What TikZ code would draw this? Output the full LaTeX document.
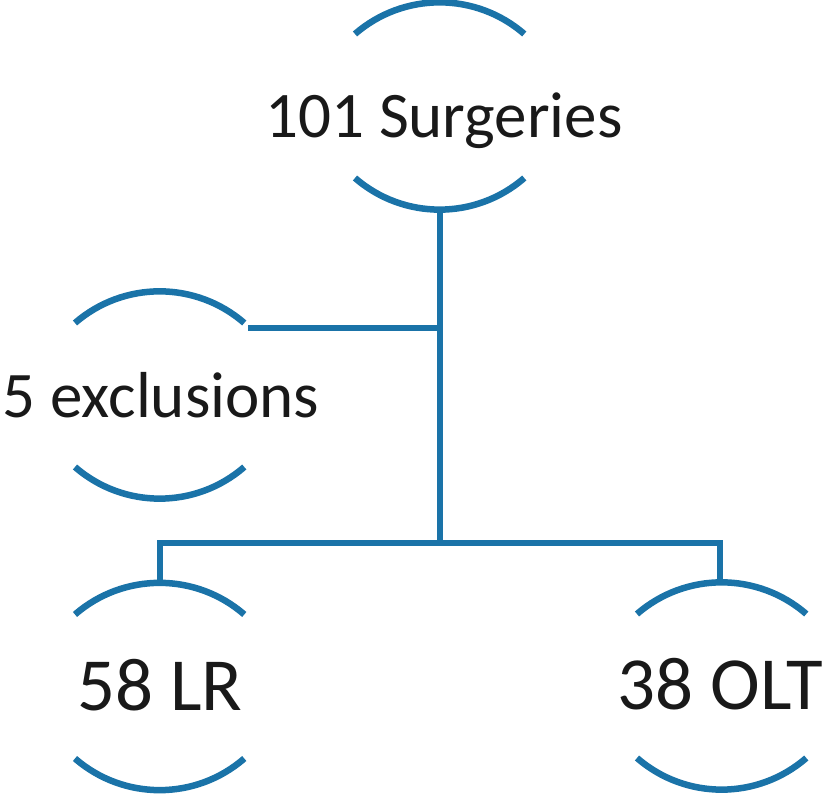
\documentclass[tikz,border=0pt]{standalone}
\usepackage{fontspec}
\setmainfont{Carlito}
\usetikzlibrary{calc}
\definecolor{flowblue}{HTML}{1A73A8}

\begin{document}
\begin{tikzpicture}[x=1pt,y=1pt,
    ring/.style={flowblue,line width=6.5pt},
    link/.style={flowblue,line width=6.5pt},
    lbl/.style={anchor=base,inner sep=0pt,text=black!90}]
          \useasboundingbox (0,0) rectangle (833,794);
          \foreach \n/\cx/\cy in {surg/440/688,excl/160/399,lr/160/107.5,olt/722/108}{
            \coordinate (\n) at (\cx,\cy);
            \draw[ring] ($(\n)+(-85,72)$) arc[start angle=131,end angle=49,radius=129];
            \draw[ring] ($(\n)+(-85,-72)$) arc[start angle=229,end angle=311,radius=129];
          }
          \node[lbl,font=\fontsize{65}{70}\selectfont] (surgtxt) at ($(surg)+(4,-32)$) {101 Surgeries};
          \node[lbl,font=\fontsize{65}{70}\selectfont] (excltxt) at ($(excl)+(1,-23)$) {5 exclusions};
          \node[lbl,font=\fontsize{75}{80}\selectfont] (lrtxt) at ($(lr)+(0,-24)$) {58 LR};
          \node[lbl,font=\fontsize{75}{80}\selectfont] (olttxt) at ($(olt)+(-2,-24)$) {38 OLT};
          \coordinate (surg-b) at ($(surg)+(0,-104)$);
          \coordinate (excl-r) at ($(excl)+(88,67)$);
          \coordinate (lr-t) at ($(lr)+(0,104)$);
          \coordinate (olt-t) at ($(olt)+(-2,104)$);
          \coordinate (split) at (surg-b |- 0,251);
          \draw[link] (surg-b) -- (split);
          \draw[link] (excl-r) -- (excl-r -| surg-b);
          \draw[link] (lr-t) |- (split) -| (olt-t);
\end{tikzpicture}
\end{document}
